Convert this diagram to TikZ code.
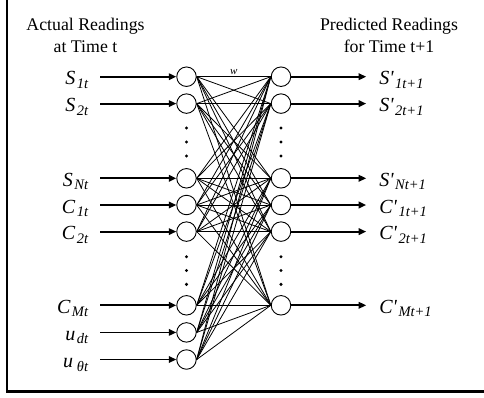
\documentclass[tikz,border=0pt]{standalone}
\usepackage{fontspec}
\setmainfont{Liberation Serif}
\usetikzlibrary{arrows.meta,positioning}
\newcommand{\rdg}[2]{{\fontsize{20}{20}\selectfont\itshape #1\kern1.5pt\raisebox{-3.5pt}{\fontsize{14.5}{15}\selectfont #2}}}

\begin{document}
\begin{tikzpicture}[
  x=1pt, y=-1pt,
  font=\fontsize{17.8}{21.5}\selectfont,
  neuron/.style={draw, circle, line width=.9pt, minimum size=19.5pt, inner sep=0pt},
  inlab/.style ={inner xsep=12pt, inner ysep=0pt, text height=20pt, text depth=4pt},
  outlab/.style={inner xsep=13pt, inner ysep=0pt, text height=20pt, text depth=4pt},
  title/.style ={align=center, inner sep=0pt},
  flow/.style  ={-{Triangle[length=7.5pt,width=6.5pt]}, line width=1.8pt},
  link/.style  ={line width=.8pt},
  wlab/.style  ={font=\fontsize{11}{12}\selectfont\itshape, inner sep=2pt},
]
\useasboundingbox (0,0) rectangle (484,397);

% ================= FRAME =================
\draw[line width=2.2pt] (7,0) -- (7,391.5) -- (484,391.5);

% ================= TITLES =================
\node[title, anchor=base] (actual) at (85.5,52) {Actual Readings\\at Time t};
\node[title, anchor=base] (predicted) at (389,52) {Predicted Readings\\for Time t+1};

% ================= INPUT LAYER =================
\node[neuron] (inS1) at (186.5,76.7) {};
\node[neuron] (inS2) at (186.5,103.6) {};
\node[neuron] (inSN) at (186.5,178.3) {};
\node[neuron] (inC1) at (186.5,205.0) {};
\node[neuron] (inC2) at (186.5,231.6) {};
\node[neuron] (inCM) at (186.5,305.3) {};
\node[neuron] (inUd) at (186.5,332.4) {};
\node[neuron] (inUt) at (186.5,359.5) {};

\node[inlab, left=76pt of inS1] (labS1) {\rdg{S}{1t}};
\node[inlab, left=76pt of inS2] (labS2) {\rdg{S}{2t}};
\node[inlab, left=76pt of inSN] (labSN) {\rdg{S}{Nt}};
\node[inlab, left=76pt of inC1] (labC1) {\rdg{C}{1t}};
\node[inlab, left=76pt of inC2] (labC2) {\rdg{C}{2t}};
\node[inlab, left=76pt of inCM] (labCM) {\rdg{C}{Mt}};
\node[inlab, left=76pt of inUd] (labUd) {\rdg{u}{dt}};
\node[inlab, left=76pt of inUt] (labUt) {\rdg{u}{\,θt}};

\foreach \n in {S1,S2,SN,C1,C2,CM,Ud,Ut}
  \draw[flow] (lab\n) -- (in\n);

% ================= OUTPUT LAYER =================
\node[neuron] (outS1) at (281,76.7) {};
\node[neuron] (outS2) at (281,103.6) {};
\node[neuron] (outSN) at (281,178.3) {};
\node[neuron] (outC1) at (281,205.0) {};
\node[neuron] (outC2) at (281,231.6) {};
\node[neuron] (outCM) at (281,305.3) {};

\node[outlab, right=75pt of outS1] (predS1) {\rdg{S\textquotesingle}{1t+1}};
\node[outlab, right=75pt of outS2] (predS2) {\rdg{S\textquotesingle}{2t+1}};
\node[outlab, right=75pt of outSN] (predSN) {\rdg{S\textquotesingle}{Nt+1}};
\node[outlab, right=75pt of outC1] (predC1) {\rdg{C\textquotesingle}{1t+1}};
\node[outlab, right=75pt of outC2] (predC2) {\rdg{C\textquotesingle}{2t+1}};
\node[outlab, right=75pt of outCM] (predCM) {\rdg{C\textquotesingle}{Mt+1}};

\foreach \n in {S1,S2,SN,C1,C2,CM}
  \draw[flow] (out\n) -- (pred\n);

% ================= DOTS =================
\foreach \x in {186.5,281}
  \foreach \y in {128,142,156,256.7,270.5,284.3}
    \fill (\x,\y) circle (1.7pt);

% ================= WEIGHTS (full mesh) =================
\foreach \a in {S1,S2,SN,C1,C2,CM,Ud,Ut}
  \foreach \b in {S1,S2,SN,C1,C2,CM}
    \draw[link] (in\a.east) -- (out\b.west);
\path (inS1.east) -- (outS1.west) node[wlab, midway, above] (w) {w};

\end{tikzpicture}
\end{document}
